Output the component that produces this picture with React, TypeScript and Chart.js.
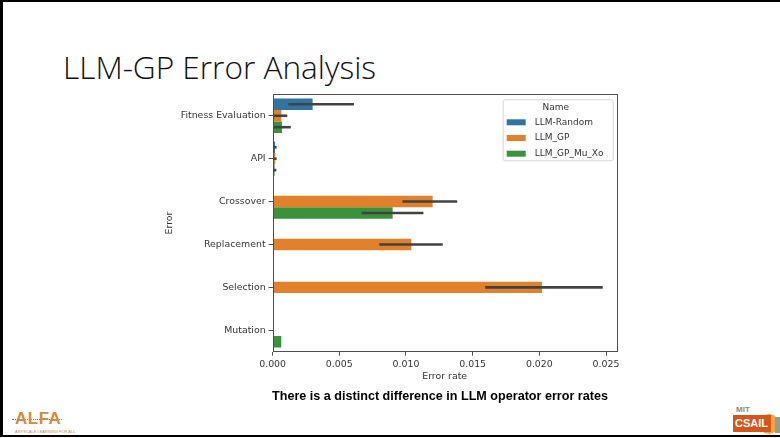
import React, { useEffect, useRef } from "react";
import { Chart, registerables } from "chart.js";

Chart.register(...registerables);

const categories = ["Fitness Evaluation", "API", "Crossover", "Replacement", "Selection", "Mutation"];
const seriesNames = ["LLM-Random", "LLM_GP", "LLM_GP_Mu_Xo"];
const colors = ["#3274a1", "#e1812c", "#3a923a"];

const randomVals = [0.003, 0.00018, null, null, null, null];
const gpVals = [0.00065, 0.0002, 0.012, 0.0104, 0.0202, null];
const muxoVals = [0.0007, 0.00015, 0.009, null, null, 0.00065];

const randomLo = [0.00118, 0.0001, null, null, null, null];
const randomHi = [0.0061, 0.0003, null, null, null, null];
const gpLo = [0.0001, 0.0001, 0.00974, 0.008, 0.01594, null];
const gpHi = [0.0011, 0.0003, 0.01384, 0.01276, 0.02475, null];
const muxoLo = [0.0001, 0.0001, 0.00668, null, null, null];
const muxoHi = [0.00136, 0.00028, 0.01131, null, null, null];

const xTicks = [0, 0.005, 0.01, 0.015, 0.02, 0.025];

const FONT = "'DejaVu Sans', sans-serif";
const FS = 9.4;
const TXT = "#333333";
const AXC = "#4d4d4d";

export default function App() {
  const ref = useRef<HTMLCanvasElement | null>(null);

  useEffect(() => {
    if (!ref.current) return;
    const lows = [randomLo, gpLo, muxoLo];
    const highs = [randomHi, gpHi, muxoHi];

    const decor = {
      id: "decor",
      afterDatasetsDraw(chart: any) {
        const ctx = chart.ctx;
        const xs = chart.scales.x;
        ctx.save();
        ctx.strokeStyle = "#424242";
        ctx.lineWidth = 2.6;
        ctx.lineCap = "butt";
        for (let d = 0; d < 3; d++) {
          const meta = chart.getDatasetMeta(d);
          for (let j = 0; j < categories.length; j++) {
            const lo = lows[d][j];
            const hi = highs[d][j];
            if (lo == null || hi == null) continue;
            const el = meta.data[j];
            if (!el) continue;
            ctx.beginPath();
            ctx.moveTo(xs.getPixelForValue(lo), el.y);
            ctx.lineTo(xs.getPixelForValue(hi), el.y);
            ctx.stroke();
          }
        }
        const a = chart.chartArea;
        ctx.strokeStyle = AXC;
        ctx.lineWidth = 1;
        ctx.strokeRect(Math.round(a.left) + 0.5, Math.round(a.top) + 0.5, Math.round(a.right - a.left), Math.round(a.bottom - a.top));
        ctx.restore();
      },
      afterDraw(chart: any) {
        const ctx = chart.ctx;
        const a = chart.chartArea;
        const w = 110;
        const h = 61;
        const left = a.right - 4 - w;
        const top = a.top + 5;
        ctx.save();
        ctx.fillStyle = "rgba(255,255,255,0.85)";
        ctx.strokeStyle = "#d6d6d6";
        ctx.lineWidth = 1;
        ctx.beginPath();
        (ctx as any).roundRect(left + 0.5, top + 0.5, w, h, 2);
        ctx.fill();
        ctx.stroke();
        ctx.font = `9px ${FONT}`;
        ctx.fillStyle = TXT;
        ctx.textAlign = "center";
        ctx.textBaseline = "middle";
        ctx.fillText("Name", left + w / 2 - 2, top + 8);
        ctx.textAlign = "left";
        for (let i = 0; i < 3; i++) {
          const cy = top + 23 + i * 15.7;
          ctx.fillStyle = colors[i];
          ctx.fillRect(left + 4, cy - 3, 19, 6);
          ctx.fillStyle = TXT;
          ctx.fillText(seriesNames[i], left + 32, cy);
        }
        ctx.restore();
      },
    };

    const chart = new Chart(ref.current, {
      type: "bar",
      data: {
        labels: categories,
        datasets: [randomVals, gpVals, muxoVals].map((vals, i) => ({
          label: seriesNames[i],
          data: vals as any,
          backgroundColor: colors[i],
          borderWidth: 0,
          categoryPercentage: 0.8,
          barPercentage: 1.0,
        })),
      },
      options: {
        indexAxis: "y",
        responsive: false,
        animation: false,
        layout: { padding: { left: 0, right: 13.3, top: 9.3, bottom: 0 } },
        plugins: { legend: { display: false }, tooltip: { enabled: false } },
        scales: {
          x: {
            type: "linear",
            min: 0,
            max: 0.0258,
            afterBuildTicks: (s: any) => {
              s.ticks = xTicks.map((v) => ({ value: v }));
            },
            ticks: {
              callback: (v: any) => Number(v).toFixed(3),
              font: { family: FONT, size: FS },
              color: TXT,
              padding: 3,
              maxRotation: 0,
            },
            grid: { display: true, drawOnChartArea: false, drawTicks: true, tickLength: 4, color: AXC },
            border: { display: false },
            title: { display: true, text: "Error rate", font: { family: FONT, size: FS }, color: TXT, padding: { top: 0, bottom: 12.8 } },
            afterFit: (s: any) => {
              s.height = 43.3;
            },
          },
          y: {
            type: "category",
            ticks: { font: { family: FONT, size: FS }, color: TXT, padding: 3 },
            grid: { display: true, drawOnChartArea: false, drawTicks: true, tickLength: 4, color: AXC, offset: false },
            border: { display: false },
            title: { display: true, text: "Error", font: { family: FONT, size: FS }, color: TXT, padding: { top: 13.5, bottom: 0 } },
            afterFit: (s: any) => {
              s.width = 122.6;
            },
          },
        },
      },
      plugins: [decor],
    });
    return () => chart.destroy();
  }, []);

  return (
    <div style={{ position: "absolute", left: 0, top: 0, width: 780, height: 438, background: "#fff", overflow: "hidden" }}>
      <div style={{ position: "absolute", left: 0, top: 0, width: 3, height: 437, background: "#000" }} />
      <div style={{ position: "absolute", left: 0, top: 0, width: 780, height: 2, background: "#000" }} />
      <div style={{ position: "absolute", left: 0, top: 435, width: 780, height: 2, background: "#000" }} />
      <div
        style={{
          position: "absolute",
          left: 63,
          top: 45,
          fontFamily: "'Open Sans', sans-serif",
          fontWeight: 300,
          fontSize: 31.6,
          lineHeight: "44px",
          color: "#111",
          whiteSpace: "nowrap",
        }}
      >
        LLM-GP Error Analysis
      </div>
      <canvas ref={ref} width={480} height={310} style={{ position: "absolute", left: 150, top: 85, width: 480, height: 310 }} />
      <div
        style={{
          position: "absolute",
          left: 190,
          width: 500,
          top: 388,
          textAlign: "center",
          fontFamily: "'Liberation Sans', Arial, sans-serif",
          fontWeight: 700,
          fontSize: 12.6,
          lineHeight: "16px",
          color: "#000",
          whiteSpace: "nowrap",
        }}
      >
        There is a distinct difference in LLM operator error rates
      </div>
      <div style={{ position: "absolute", left: 12, top: 409, width: 60, height: 26 }}>
        <div style={{ position: "absolute", left: 0, top: 10, width: 50, height: 0, borderTop: "1.5px dotted #4a7fb5" }} />
        <div
          style={{
            position: "absolute",
            left: 3,
            top: 0,
            fontFamily: "'Liberation Sans', Arial, sans-serif",
            fontWeight: 700,
            fontSize: 17,
            lineHeight: "20px",
            color: "#d58a3c",
            letterSpacing: 0.5,
          }}
        >
          ALFA
        </div>
        <div
          style={{
            position: "absolute",
            left: 3,
            top: 20,
            fontFamily: "'Liberation Sans', Arial, sans-serif",
            fontSize: 4,
            lineHeight: "5px",
            color: "#d58a3c",
            whiteSpace: "nowrap",
          }}
        >
          ANYSCALE LEARNING FOR ALL
        </div>
      </div>
      <div style={{ position: "absolute", left: 733, top: 405, width: 47, height: 30 }}>
        <div
          style={{
            position: "absolute",
            left: 3,
            top: 0,
            fontFamily: "'Liberation Sans', Arial, sans-serif",
            fontWeight: 700,
            fontSize: 8,
            lineHeight: "9px",
            color: "#8a8a8a",
          }}
        >
          MIT
        </div>
        <div style={{ position: "absolute", left: 26, top: 9, width: 20, height: 20, borderRadius: 10, background: "#f0a92e" }} />
        <div
          style={{
            position: "absolute",
            left: 0,
            top: 10,
            width: 36,
            height: 17,
            background: "#d4561c",
            fontFamily: "'Liberation Sans', Arial, sans-serif",
            fontWeight: 700,
            fontSize: 11,
            lineHeight: "17px",
            color: "#fff",
            paddingLeft: 2,
          }}
        >
          CSAIL
        </div>
        <div style={{ position: "absolute", left: 42, top: 12, width: 5, height: 16, background: "#999" }} />
      </div>
    </div>
  );
}
